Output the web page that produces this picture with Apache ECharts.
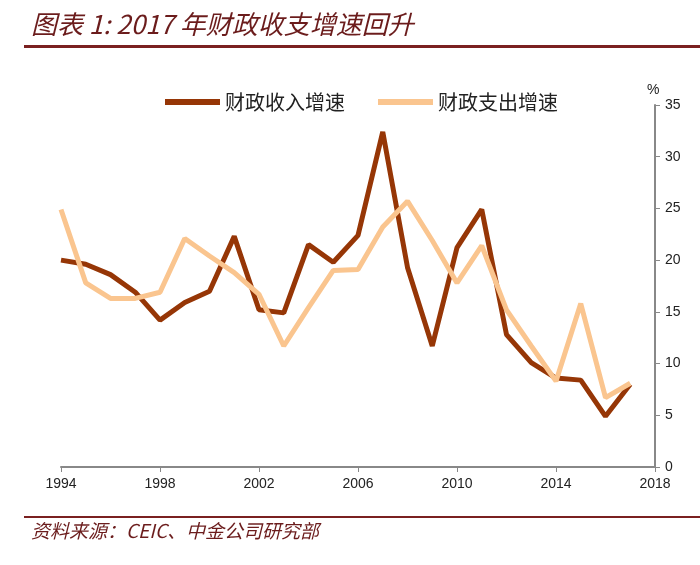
<!DOCTYPE html>
<html>
<head>
<meta charset="utf-8">
<script src="https://cdn.jsdelivr.net/npm/echarts@6/dist/echarts.min.js"></script>
<style>
    html, body { margin: 0; padding: 0; background: #fff; }
    #chart { width: 700px; height: 565px; }
</style>
</head>
<body>
<div id="chart"></div>
<script>
    // 年份
    var years = [1994, 1995, 1996, 1997, 1998, 1999, 2000, 2001, 2002, 2003, 2004, 2005,
                 2006, 2007, 2008, 2009, 2010, 2011, 2012, 2013, 2014, 2015, 2016, 2017];
    // 财政收入增速 (%)
    var revenueGrowth = [20.0, 19.6, 18.6, 16.9, 14.2, 15.9, 17.0, 22.3, 15.2, 14.9, 21.5, 19.8,
                         22.4, 32.4, 19.3, 11.7, 21.2, 24.9, 12.8, 10.1, 8.6, 8.4, 4.9, 8.0];
    // 财政支出增速 (%)
    var spendGrowth = [24.9, 17.8, 16.3, 16.3, 16.9, 22.1, 20.4, 18.8, 16.7, 11.7, 15.4, 19.0,
                       19.1, 23.2, 25.7, 21.9, 17.8, 21.4, 15.2, 11.7, 8.3, 15.8, 6.7, 8.1];

    var chart = echarts.init(document.getElementById('chart'));

    function pairs(vals) {
        return years.map(function (y, i) { return [y, vals[i]]; });
    }

    var cjk = '"Noto Sans CJK SC", sans-serif';

    chart.setOption({
        animation: false,
        grid: { left: 61, right: 45, top: 105, bottom: 98 },
        legend: {
            top: 87,
            left: 160,
            itemWidth: 55,
            itemHeight: 6,
            itemGap: 33,
            icon: 'rect',
            textStyle: { fontFamily: cjk, fontSize: 20, color: '#222' },
            data: ['财政收入增速', '财政支出增速']
        },
        xAxis: {
            type: 'value',
            min: 1994,
            max: 2018,
            interval: 4,
            splitLine: { show: false },
            axisLine: { lineStyle: { color: '#888', width: 2 } },
            axisTick: { lineStyle: { color: '#888' }, length: 5 },
            axisLabel: {
                color: '#222', fontSize: 14, fontFamily: 'Arial, "Liberation Sans"', margin: 10,
                formatter: function (v) { return String(v); }
            }
        },
        yAxis: {
            type: 'value',
            position: 'right',
            min: 0,
            max: 35,
            interval: 5,
            name: '%',
            nameGap: 8,
            nameTextStyle: { color: '#222', fontSize: 14, align: 'left', padding: [0, 0, 0, -8] },
            splitLine: { show: false },
            axisLine: { show: true, lineStyle: { color: '#888', width: 2 } },
            axisTick: { show: true, lineStyle: { color: '#888' }, length: 5 },
            axisLabel: { color: '#222', fontSize: 14, fontFamily: 'Arial, "Liberation Sans"', margin: 10 }
        },
        series: [
            {
                name: '财政收入增速',
                type: 'line',
                data: pairs(revenueGrowth),
                symbol: 'none',
                lineStyle: { width: 5, color: '#963606' },
                itemStyle: { color: '#963606' }
            },
            {
                name: '财政支出增速',
                type: 'line',
                data: pairs(spendGrowth),
                symbol: 'none',
                lineStyle: { width: 5, color: '#FAC58F' },
                itemStyle: { color: '#FAC58F' }
            }
        ],
        graphic: [
            {
                type: 'text', left: 31, top: 11,
                style: {
                    text: '图表 1: 2017 年财政收支增速回升',
                    fontFamily: cjk, fontSize: 26, fontStyle: 'italic',
                    fill: '#6b1c1c'
                }
            },
            {
                type: 'rect', shape: { x: 24, y: 45, width: 676, height: 3 },
                style: { fill: '#7a2020' }
            },
            {
                type: 'rect', shape: { x: 24, y: 516, width: 676, height: 2 },
                style: { fill: '#7a2020' }
            },
            {
                type: 'text', left: 31, top: 521,
                style: {
                    text: '资料来源：CEIC、中金公司研究部',
                    fontFamily: cjk, fontSize: 19, fontStyle: 'italic',
                    fill: '#6b1c1c'
                }
            }
        ]
    });
</script>
</body>
</html>
